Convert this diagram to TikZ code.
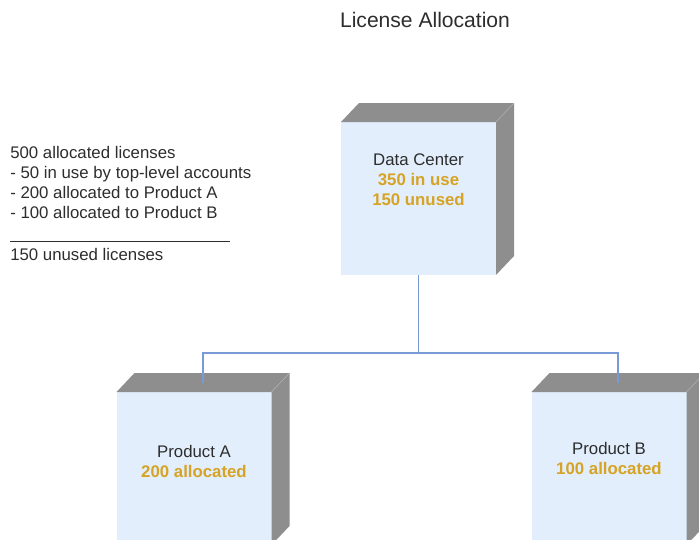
\documentclass[tikz,border=0pt]{standalone}
\usepackage{fontspec}
\setmainfont{Liberation Sans}
\usepackage{xcolor}

\definecolor{frontblue}{RGB}{226,238,252}
\definecolor{sidegray}{RGB}{142,142,142}
\definecolor{linkblue}{RGB}{120,155,215}
\definecolor{gold}{RGB}{214,163,36}
\definecolor{txtgray}{RGB}{45,45,45}

\tikzset{
    face/.style={fill=frontblue, minimum width=116.25pt, minimum height=114.75pt, inner sep=0pt, outer sep=0pt},
    lbl/.style={align=center, text=txtgray},
    conn/.style={linkblue, line width=1.1pt},
}
\newcommand{\amount}[1]{\textcolor{gold}{\textbf{#1}}}

\begin{document}
\begin{tikzpicture}[x=0.75pt, y=-0.75pt, font=\fontsize{12.6}{15}\selectfont]
        \clip (0,0) rectangle (699,539);
        
        \node[text=txtgray, font=\fontsize{15.8}{18}\selectfont] (title) at (425,20) {License Allocation};
        
        % the three boxes
        \node[face] (dc) at (418.5,198.5) {};
        \node[face] (pa) at (194,468.5) {};
        \node[face] (pb) at (609,468.5) {};
        
        \foreach \b in {dc,pa,pb} {
            \fill[sidegray] (\b.north west) -- ++(18,-19) -- ++(155,0) -- (\b.north east) -- cycle;
            \fill[sidegray] (\b.north east) -- ++(18,-19) -- ++(0,153) -- (\b.south east) -- cycle;
            \draw[sidegray!70!white, line width=0.4pt] (\b.north east) -- ++(18,-19);
        }
        
        \node[lbl] (dctext) at (418.5,180) {Data Center\\\amount{350 in use}\\\amount{150 unused}};
        \node[lbl] (patext) at (194,461.5) {Product A\\\amount{200 allocated}};
        \node[lbl] (pbtext) at (609,458.5) {Product B\\\amount{100 allocated}};
        
        % links
        \coordinate (atop) at ([shift={(9,-9.5)}]pa.north);
        \coordinate (btop) at ([shift={(9,-9.5)}]pb.north);
        \draw[conn] (dc.south) -- ++(0,78) -| (atop);
        \draw[conn] (dc.south) -- ++(0,78) -| (btop);
        
        % summary on the left
        \node[text=txtgray, align=left, anchor=west, inner sep=0pt] (summary) at (10,182.5)
            {500 allocated licenses\\- 50 in use by top-level accounts\\- 200 allocated to Product A\\- 100 allocated to Product B};
        \draw[txtgray, line width=0.6pt] (10,241) -- (230,241);
        \node[text=txtgray, anchor=west, inner sep=0pt] (unused) at (10,254) {150 unused licenses};
    \end{tikzpicture}
\end{document}
